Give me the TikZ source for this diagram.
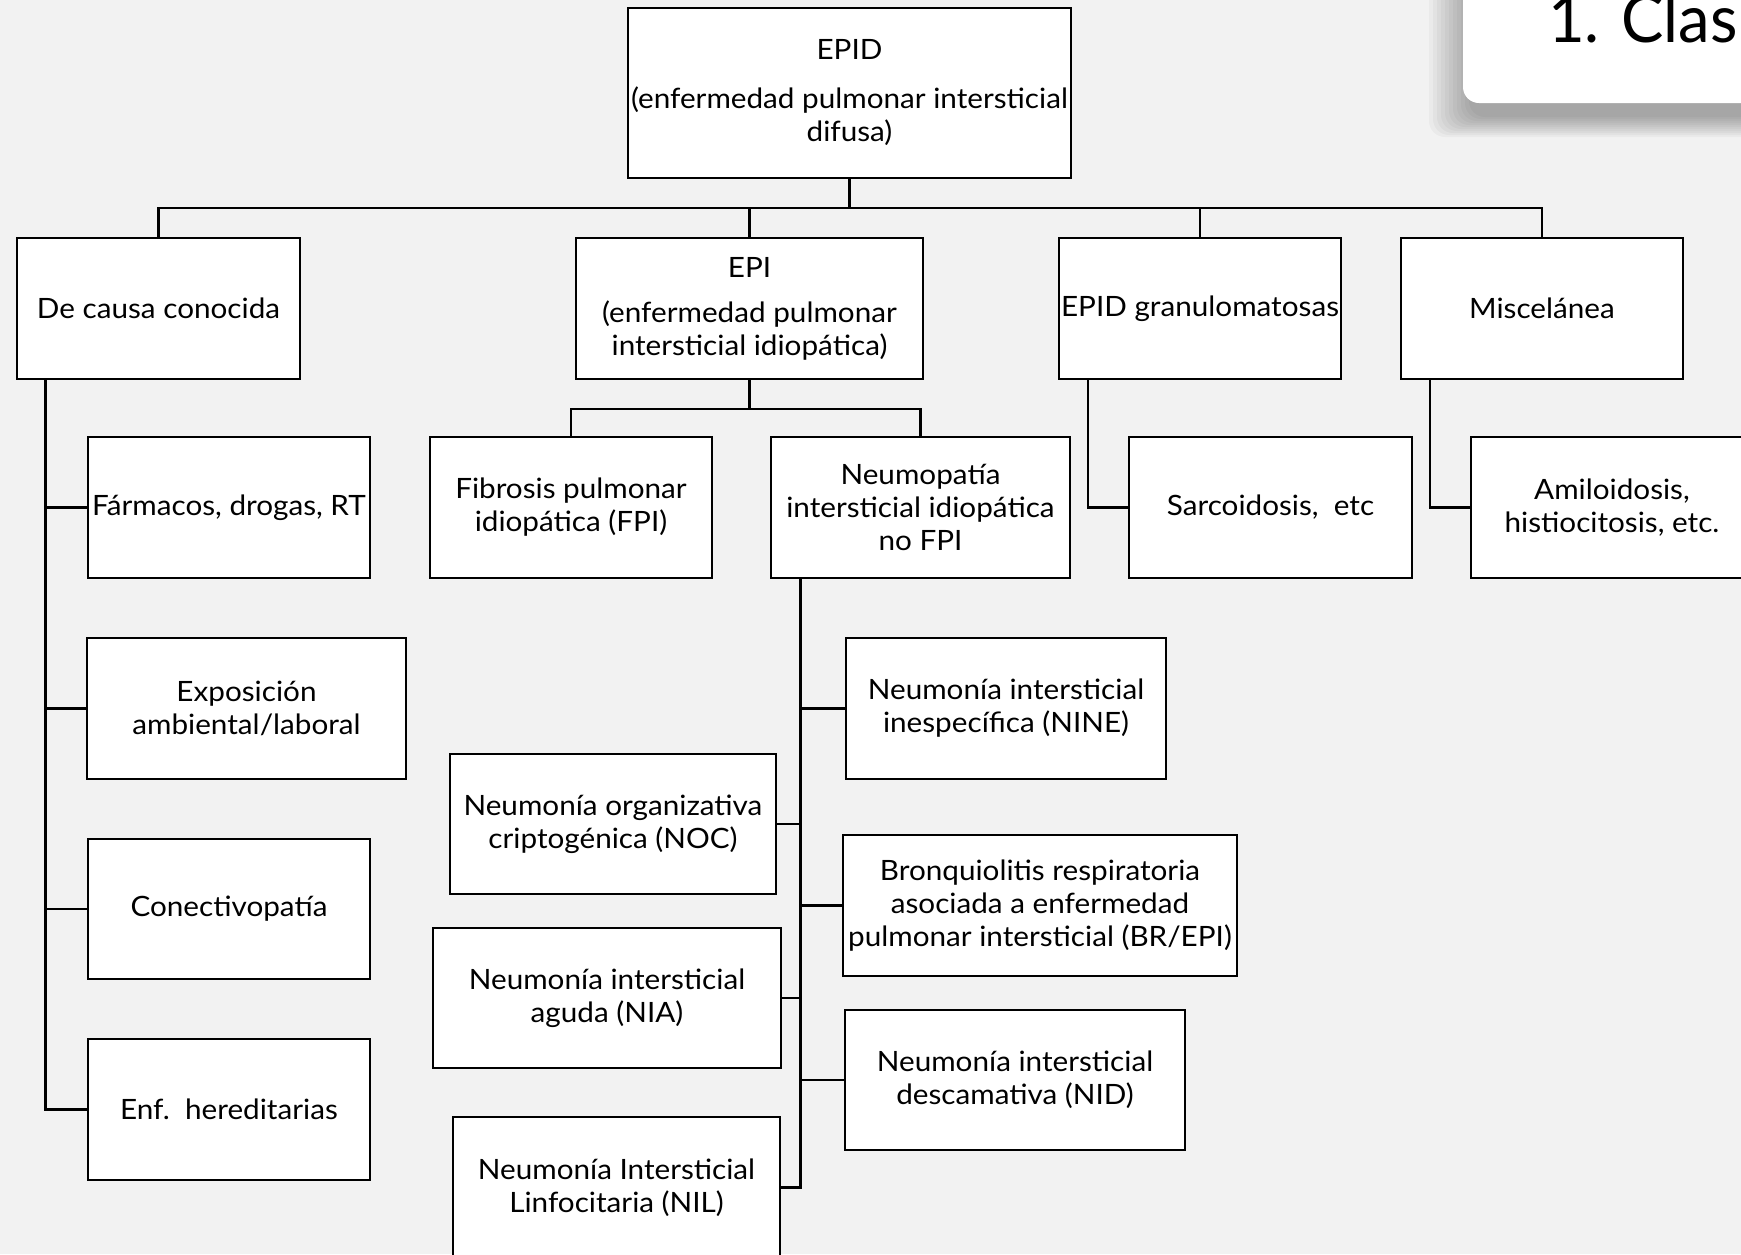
\documentclass[tikz,border=0pt]{standalone}
\usepackage{fontspec}
\setmainfont{Lato}[FakeStretch=1.06]
\newfontfamily\titlefont{Lato}[FakeStretch=0.96]
\definecolor{bg}{HTML}{F2F2F2}
\begin{document}
\begin{tikzpicture}[x=1pt,y=-1pt,
  bx/.style={draw=black, fill=white, line width=2pt, align=center, inner sep=0pt, font=\fontsize{28}{33}\selectfont},
  wh/.style 2 args={minimum width=#1pt, minimum height=#2pt},
  ln/.style={draw=black, line width=2.4pt}]
\useasboundingbox (0,0) rectangle (1741,1254);
\clip (0,0) rectangle (1741,1254);
\fill[bg] (0,0) rectangle (1741,1254);
% title box with shadow
\foreach \k in {0,...,10}{
  \fill[black, fill opacity=0.03, rounded corners=16pt] ({1463-4*\k+6},-40) rectangle ({1800},{103+14+2*\k});
}
\fill[white, rounded corners=16pt] (1463,-40) rectangle (1800,103);
\node[anchor=base west, inner sep=0pt, font=\titlefont\fontsize{66}{80}\selectfont] (title) at (1548,42) {1. Clas};

% nodes
\node[bx, wh={443}{170}] (epid) at (849.5,93) {EPID\\[16pt](enfermedad pulmonar intersticial\\difusa)};
\node[bx, wh={283}{141}] (cc) at (158.5,308.5) {De causa conocida};
\node[bx, wh={347}{141}] (epi) at (749.5,308.5) {EPI\\[12pt](enfermedad pulmonar\\intersticial idiopática)};
\node[bx, wh={282}{141}] (gran) at (1200,308.5) {EPID granulomatosas};
\node[bx, wh={282}{141}] (misc) at (1542,308.5) {Miscelánea};

\node[bx, wh={282}{141}] (farm) at (229,507.5) {Fármacos, drogas, RT};
\node[bx, wh={282}{141}] (fpi) at (571,507.5) {Fibrosis pulmonar\\idiopática (FPI)};
\node[bx, wh={299}{141}] (nofpi) at (920.5,507.5) {Neumopatía\\intersticial idiopática\\no FPI};
\node[bx, wh={283}{141}] (sarc) at (1270.5,507.5) {Sarcoidosis,\ \ etc};
\node[bx, wh={282}{141}] (amil) at (1612,507.5) {Amiloidosis,\\histiocitosis, etc.};

\node[bx, wh={319}{141}] (expo) at (246.5,708.5) {Exposición\\ambiental/laboral};
\node[bx, wh={282}{140}] (conec) at (229,909) {Conectivopatía};
\node[bx, wh={282}{141}] (enf) at (229,1109.5) {Enf.\ \ hereditarias};

\node[bx, wh={320}{141}] (nine) at (1006,708.5) {Neumonía intersticial\\inespecífica (NINE)};
\node[bx, wh={394}{141}] (br) at (1040,905.5) {Bronquiolitis respiratoria\\asociada a enfermedad\\pulmonar intersticial (BR/EPI)};
\node[bx, wh={340}{140}] (nid) at (1015,1080) {Neumonía intersticial\\descamativa (NID)};
\node[bx, wh={326}{140}] (noc) at (613,824) {Neumonía organizativa\\criptogénica (NOC)};
\node[bx, wh={348}{140}] (nia) at (607,998) {Neumonía intersticial\\aguda (NIA)};
\node[bx, wh={327}{141}] (nil) at (616.5,1187.5) {Neumonía Intersticial\\Linfocitaria (NIL)};

% connectors
\coordinate (b1) at (849.5,208);
\draw[ln] (epid.south) -- (b1);
\foreach \n in {cc,epi,gran,misc} \draw[ln] (\n.north) |- (b1);
\coordinate (b2) at (749.5,409);
\draw[ln] (epi.south) -- (b2);
\foreach \n in {fpi,nofpi} \draw[ln] (\n.north) |- (b2);
\coordinate (s1) at (45.5,379);
\foreach \n in {farm,expo,conec,enf} \draw[ln] (s1) |- (\n.west);
\coordinate (s2) at (1088,379);
\draw[ln] (s2) |- (sarc.west);
\coordinate (s3) at (1430,379);
\draw[ln] (s3) |- (amil.west);
\coordinate (s4) at (800.5,578);
\foreach \n in {nine,br,nid} \draw[ln] (s4) |- (\n.west);
\foreach \n in {noc,nia,nil} \draw[ln] (s4) |- (\n.east);
\end{tikzpicture}
\end{document}
